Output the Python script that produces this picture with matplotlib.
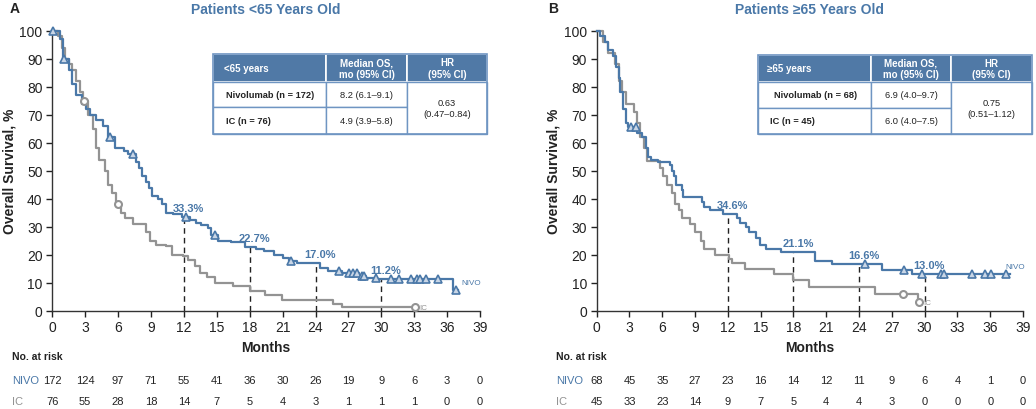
import numpy as np
import matplotlib
matplotlib.use("Agg")
import matplotlib.pyplot as plt
import matplotlib.patches as patches

plt.rcParams['font.family'] = ['Liberation Sans', 'DejaVu Sans']

BLUE = '#4a78a8'
GRAY = '#939393'
HEAD = '#5079a6'
EDGE = '#6f95c2'
TXT = '#222222'

# ---- data ----
months = list(range(0, 40, 3))
landmarks = [12, 18, 24, 30]

# Panel A: patients < 65
a_nivo_t = [0, 0.7, 1.0, 1.5, 1.8, 2.2, 2.7, 3.1, 3.4, 4.0, 4.6, 5.1, 5.7, 6.5, 6.9, 7.6,
            7.9, 8.2, 8.5, 8.8, 9.1, 9.6, 10.0, 10.4, 11.0, 11.8, 12.6, 13.1, 13.6, 14.2,
            14.5, 15.1, 16.3, 17.6, 18.6, 19.3, 20.2, 21.0, 21.6, 22.3, 24.4, 25.1, 26.4,
            28.0, 28.6, 29.6, 36.5, 37.0]
a_nivo_s = [100, 97, 90, 86, 81, 77, 74, 72, 70, 68, 66, 62, 58, 57, 56, 53,
            51, 48, 46, 44, 41, 40, 38, 35, 34.5, 33.3, 32.5, 31.5, 30.5, 29.5,
            27, 25, 24.5, 22.7, 22.0, 21.3, 20, 19, 17.8, 17.0, 15.3, 14.2, 13.4,
            12.5, 11.8, 11.2, 7.5, 7.5]
a_nivo_cens = [0.1, 1.1, 5.3, 7.4, 12.2, 14.8, 21.8, 26.1, 27.1, 27.4, 27.8, 28.2, 28.4,
               29.5, 30.9, 31.6, 32.7, 33.3, 33.5, 34.1, 35.2, 36.8]
a_ic_t = [0, 0.5, 0.85, 1.15, 1.5, 1.8, 2.2, 2.5, 2.8, 3.3, 3.7, 4.0, 4.3, 4.8, 5.1, 5.4,
          5.8, 6.3, 6.6, 7.4, 8.5, 8.9, 9.5, 10.4, 10.9, 11.9, 12.4, 13.0, 13.5, 14.1,
          14.8, 16.5, 18.0, 19.4, 20.9, 25.6, 26.4, 33.1]
a_ic_s = [100, 98, 94, 90, 88, 86, 82, 78, 75, 70, 65, 58, 54, 50, 45, 42,
          38, 35, 33, 31, 28, 25, 23.5, 23, 20, 19.5, 18, 16, 13.5, 12,
          10, 9, 7, 5.5, 4, 2.5, 1.2, 1.2]
a_ic_cens = [2.9, 6.0, 33.1]
a_land = ['33.3%', '22.7%', '17.0%', '11.2%']
a_nivo_risk = [172, 124, 97, 71, 55, 41, 36, 30, 26, 19, 9, 6, 3, 0]
a_ic_risk = [76, 55, 28, 18, 14, 7, 5, 4, 3, 1, 1, 1, 0, 0]
a_table = [['<65 years', 'Median OS,\nmo (95% CI)', 'HR\n(95% CI)'],
           ['Nivolumab (n = 172)', '8.2 (6.1\u20139.1)', '0.63\n(0.47\u20130.84)'],
           ['IC (n = 76)', '4.9 (3.9\u20135.8)', '']]

# Panel B: patients >= 65
b_nivo_t = [0, 0.3, 0.75, 1.05, 1.5, 1.8, 2.0, 2.1, 2.4, 2.7, 2.9, 3.7, 4.1, 4.5, 4.7,
            5.0, 5.6, 6.7, 6.9, 7.1, 7.3, 7.8, 7.9, 9.6, 9.8, 10.4, 11.6, 12.8, 13.1,
            13.7, 13.9, 14.6, 14.9, 15.5, 16.9, 20.0, 21.5, 26.1, 28.8, 37.8]
b_nivo_s = [100, 98, 96, 93, 91, 87, 83, 78, 72, 67, 65.5, 63.5, 62, 58, 55,
            54, 53, 52, 50, 48, 45, 43, 40.5, 39, 37, 36, 34.6, 33, 31.5,
            30, 28, 26, 23.5, 22, 21.1, 17.8, 16.6, 14.7, 13.0, 13.0]
b_nivo_cens = [3.1, 3.6, 24.5, 28.1, 29.8, 31.5, 31.8, 34.3, 35.5, 36.1, 37.4]
b_ic_t = [0, 0.6, 1.05, 1.7, 2.0, 2.3, 2.7, 3.4, 3.7, 4.0, 4.3, 4.6, 5.8, 6.1, 6.4,
          6.9, 7.2, 7.5, 7.8, 8.5, 9.0, 9.5, 9.8, 10.8, 12.1, 12.4, 13.6, 16.2, 18.0,
          19.4, 25.5, 29.4, 29.5]
b_ic_s = [100, 96, 92, 88, 82, 78, 74, 71, 67, 62, 58, 53.5, 51, 48, 45,
          42, 38, 36, 33, 31, 28, 25, 22, 20, 18.5, 17, 15, 13, 11,
          8.5, 6, 3, 3]
b_ic_cens = [28.0, 29.5]
b_land = ['34.6%', '21.1%', '16.6%', '13.0%']
b_nivo_risk = [68, 45, 35, 27, 23, 16, 14, 12, 11, 9, 6, 4, 1, 0]
b_ic_risk = [45, 33, 23, 14, 9, 7, 5, 4, 4, 3, 0, 0, 0, 0]
b_table = [['\u226565 years', 'Median OS,\nmo (95% CI)', 'HR\n(95% CI)'],
           ['Nivolumab (n = 68)', '6.9 (4.0\u20139.7)', '0.75\n(0.51\u20131.12)'],
           ['IC (n = 45)', '6.0 (4.0\u20137.5)', '']]

W, H = 1036, 410


def surv_at(t, s, x):
    i = np.searchsorted(t, x, side='right') - 1
    return np.asarray(s)[i]


def draw_table(fig, rows, cols, rh, text_x):
    # cols: column edges in pixels, rh: row edges in pixels
    def fx(p):
        return p / W

    def fy(p):
        return 1 - p / H

    def box(c0, c1, r0, r1, fc, ec, lw):
        fig.add_artist(patches.Rectangle((fx(c0), fy(r1)), fx(c1) - fx(c0), fy(r0) - fy(r1),
                                         transform=fig.transFigure, facecolor=fc,
                                         edgecolor=ec, lw=lw))

    # header
    for c in range(3):
        box(cols[c], cols[c + 1], rh[0], rh[1], HEAD, 'white', 1.2)
    # body cells
    for r in (1, 2):
        for c in (0, 1):
            box(cols[c], cols[c + 1], rh[r], rh[r + 1], 'white', EDGE, 1.0)
    box(cols[2], cols[3], rh[1], rh[3], 'white', EDGE, 1.0)
    box(cols[0], cols[3], rh[0], rh[3], 'none', EDGE, 1.2)

    hy = (rh[0] + rh[1]) / 2
    fig.text(fx(text_x[0]), fy(hy), rows[0][0], color='white', fontsize=7, weight='bold',
             ha='left', va='center')
    for c in (1, 2):
        fig.text(fx((cols[c] + cols[c + 1]) / 2), fy(hy), rows[0][c], color='white', fontsize=7,
                 weight='bold', ha='center', va='center', linespacing=1.2)
    for r in (1, 2):
        cy = (rh[r] + rh[r + 1]) / 2
        fig.text(fx(text_x[r]), fy(cy), rows[r][0], color=TXT, fontsize=6.7, weight='bold',
                 ha='left', va='center')
        fig.text(fx((cols[1] + cols[2]) / 2), fy(cy), rows[r][1], color=TXT, fontsize=6.7,
                 ha='center', va='center')
    fig.text(fx((cols[2] + cols[3]) / 2), fy((rh[1] + rh[3]) / 2), rows[1][2], color=TXT,
             fontsize=6.7, ha='center', va='center', linespacing=1.3)


def draw_panel(ax, nivo_t, nivo_s, nivo_c, ic_t, ic_s, ic_c, land, nivo_risk, ic_risk,
               title, nivo_lab, ic_lab):
    ax.step(ic_t, ic_s, where='post', color=GRAY, lw=1.6, clip_on=False, zorder=3)
    ax.step(nivo_t, nivo_s, where='post', color=BLUE, lw=1.6, clip_on=False, zorder=4)
    ax.plot(ic_c, [surv_at(ic_t, ic_s, c) for c in ic_c], 'o', ms=5, mfc='white', mec=GRAY,
            mew=1.5, clip_on=False, zorder=5)
    ax.plot(nivo_c, [surv_at(nivo_t, nivo_s, c) for c in nivo_c], '^', ms=6, mfc='#c9d6e6',
            mec=BLUE, mew=1.2, clip_on=False, zorder=6)

    for m, lab in zip(landmarks, land):
        v = surv_at(nivo_t, nivo_s, m)
        ax.vlines(m, 0, v, colors='#222222', linestyles=(0, (4, 3)), lw=1.0, zorder=2)
        ax.text(m + 0.4, v + 3.2, lab, color=BLUE, fontsize=8, weight='bold', ha='center',
                va='center', zorder=7)

    ax.text(nivo_lab[0], nivo_lab[1], 'NIVO', color=BLUE, fontsize=5.8, ha='left', va='center')
    ax.text(ic_lab[0], ic_lab[1], 'IC', color=GRAY, fontsize=5.8, ha='left', va='center')

    ax.set_xlim(0, 39)
    ax.set_ylim(0, 100)
    ax.set_xticks(months)
    ax.set_yticks(range(0, 101, 10))
    ax.tick_params(direction='out', length=4, width=1, labelsize=10, colors='#222222', pad=3)
    for sp in ('top', 'right'):
        ax.spines[sp].set_visible(False)
    for sp in ('left', 'bottom'):
        ax.spines[sp].set_color('#333333')
        ax.spines[sp].set_linewidth(1.0)
    ax.set_ylabel('Overall Survival, %', fontsize=10, weight='bold', color='#222222')
    ax.yaxis.set_label_coords(-0.084, 0.5)
    ax.text(0.5, -0.13, 'Months', transform=ax.transAxes, fontsize=10, weight='bold',
            ha='center', va='center', color='#222222')

    tr = ax.get_xaxis_transform()
    ax.text(-0.095, -0.162, 'No. at risk', transform=ax.transAxes, fontsize=7.5, weight='bold',
            ha='left', va='center', color='#222222')
    ax.text(-0.095, -0.248, 'NIVO', transform=ax.transAxes, fontsize=8, ha='left',
            va='center', color=BLUE)
    ax.text(-0.095, -0.322, 'IC', transform=ax.transAxes, fontsize=8, ha='left',
            va='center', color=GRAY)
    for m, n1, n2 in zip(months, nivo_risk, ic_risk):
        ax.text(m, -0.248, str(n1), transform=tr, fontsize=8, ha='center', va='center',
                color='#222222')
        ax.text(m, -0.322, str(n2), transform=tr, fontsize=8, ha='center', va='center',
                color='#222222')

    ax.set_title(title, fontsize=10, weight='bold', color=BLUE, pad=13)


fig = plt.figure(figsize=(W / 100, H / 100), dpi=100)
ax_a = fig.add_axes([52.3 / W, 1 - 311.7 / H, 427.7 / W, 280 / H])
ax_b = fig.add_axes([596.7 / W, 1 - 311.7 / H, 426.3 / W, 280 / H])

draw_panel(ax_a, a_nivo_t, a_nivo_s, a_nivo_cens, a_ic_t, a_ic_s, a_ic_cens, a_land,
           a_nivo_risk, a_ic_risk, 'Patients <65 Years Old', (37.3, 10.2), (33.5, 1.2))
draw_panel(ax_b, b_nivo_t, b_nivo_s, b_nivo_cens, b_ic_t, b_ic_s, b_ic_cens, b_land,
           b_nivo_risk, b_ic_risk, 'Patients \u226565 Years Old', (37.4, 15.8), (29.9, 2.8))

fig.text(10 / W, 1 - 9 / H, 'A', fontsize=10, weight='bold', color='#222222', va='center')
fig.text(548 / W, 1 - 9 / H, 'B', fontsize=10, weight='bold', color='#222222', va='center')

draw_table(fig, a_table, [213, 326, 407, 487], [55, 83, 108, 135], [224, 226, 226])
draw_table(fig, b_table, [758, 871, 951, 1032], [56, 83, 109, 135], [767, 774, 770])

fig.savefig('out.png', dpi=100)
